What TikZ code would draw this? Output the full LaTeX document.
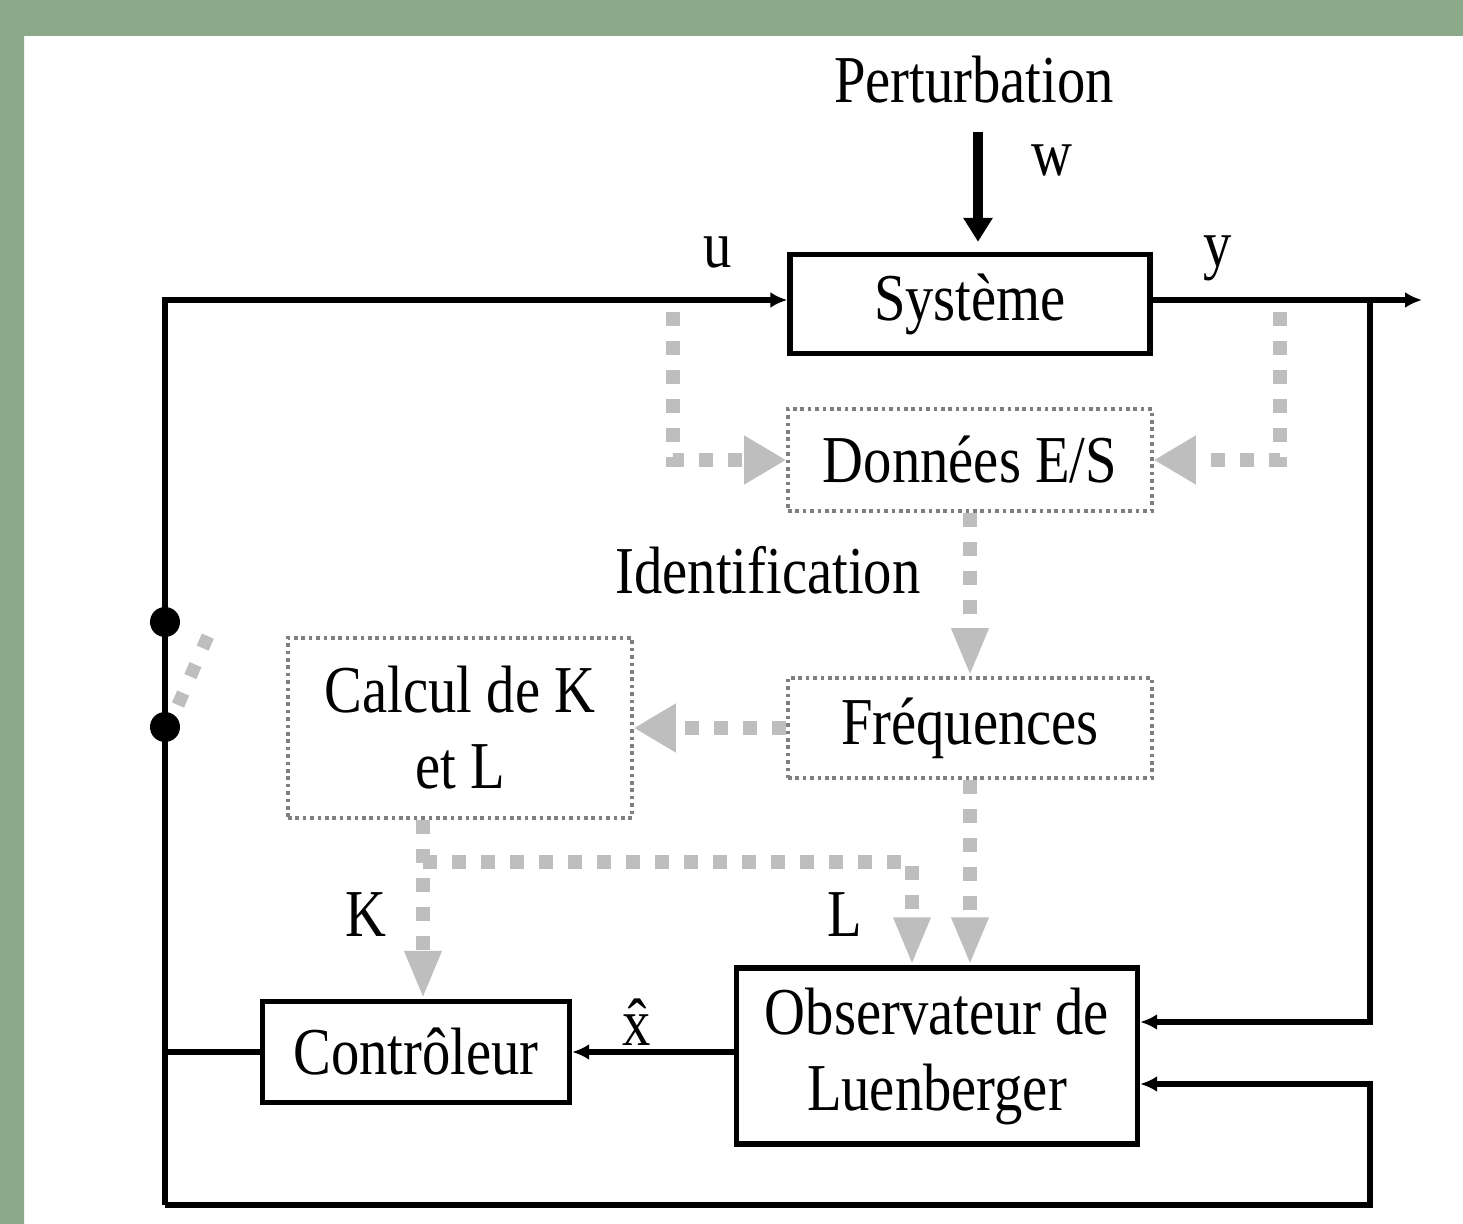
\documentclass[tikz,border=0pt]{standalone}
\usepackage{fontspec}
\setmainfont{Liberation Serif}[FakeStretch=0.845]
\usepackage{tikz}
\usetikzlibrary{positioning,arrows.meta}
\usepackage{xcolor}
\definecolor{bandgreen}{HTML}{8CA989}
\definecolor{bandlight}{HTML}{ABD2A8}
\definecolor{flowgray}{HTML}{BEBEBE}
\definecolor{framegray}{HTML}{7F7F7F}

\begin{document}
\begin{tikzpicture}[x=0.5pt, y=-0.5pt,
                font=\fontsize{33.5}{38}\selectfont,
                blockbox/.style={draw, line width=2.7pt, inner sep=0pt, align=center},
                databox/.style={draw=framegray, line width=1.8pt, dash pattern=on 1.8pt off 1.9pt, inner sep=0pt, align=center},
                wire/.style={line width=2.6pt, -{Latex[length=8.5pt,width=8pt]}},
                flow/.style={flowgray, line width=7pt, dash pattern=on 7pt off 7.5pt, -{Triangle[length=21pt,width=23pt]}},
                flowdown/.style={flow, -{Triangle[length=24pt,width=17pt]}}]

                % Background and slide border
                \useasboundingbox (0,0) rectangle (1463,1224);
                \fill[white] (0,0) rectangle (1463,1224);
                \fill[bandgreen] (0,0) rectangle (1463,36);
                \shade[top color=bandgreen, middle color=bandlight, bottom color=bandgreen] (0,36) rectangle (24,1224);

                % Blocks
                \node[blockbox, minimum width=180pt, minimum height=49.5pt] (sys) at (970,304) {Système};
                \node[databox, minimum width=182pt, minimum height=51pt] (data) at (970,460) {Données E/S};
                \node[databox, minimum width=182pt, minimum height=50pt] (freq) at (970,728) {Fréquences};
                \node[databox, minimum width=172pt, minimum height=90pt] (calc) at (460,728) {Calcul de K\\et L};
                \node[blockbox, minimum width=153.5pt, minimum height=50.5pt] (ctrl) at (416,1052) {Contrôleur};
                \node[blockbox, minimum width=200.5pt, minimum height=88pt] (obs) at (937,1056) {Observateur de\\Luenberger};

                % Labels
                \node (pert) at (974,80) {Perturbation};
                \node (wlbl) at (1052,160) {w};
                \node (ulbl) at (718,252) {u};
                \node (ylbl) at (1218,258) {y};
                \node (ident) at (768,570) {Identification};
                \node (klbl) at (366,915) {K};
                \node (llbl) at (845,915) {L};
                \node (xhat) at (637,1022) {\^{x}};

                % Corners and branch points
                \coordinate (nw) at (165,300);
                \coordinate (sw) at (165,1205);
                \coordinate (se) at (1370,1205);
                \coordinate (ybr) at (1370,300);
                \coordinate (yout) at (1422,300);
                \coordinate (wtop) at (978,132);
                \coordinate (utap) at (673,312);
                \coordinate (ytap) at (1280,312);
                \coordinate (kl) at (423,862);
                \coordinate (lcol) at (912,862);
                \coordinate (swA) at (165,622);
                \coordinate (swB) at (165,727);
                \coordinate (bladeA) at (178,705);
                \coordinate (bladeB) at (214,622);

                % Perturbation w
                \draw[line width=5pt, -{Triangle[length=12pt,width=14pt]}, shorten >=5pt] (wtop) -- (wtop |- sys.north);

                % Control loop
                \draw[wire] (sw) -- (nw) -- (sys.west |- nw);
                \draw[line width=2.6pt] (ctrl.west) -- (ctrl.west -| nw);
                \draw[wire] (sys.east |- ybr) -- (yout);
                \draw[wire] (ybr) |- ([yshift=17pt]obs.east);
                \draw[wire] (sw) -- (se) |- ([yshift=-14pt]obs.east);
                \draw[wire] (obs.west |- ctrl.east) -- (ctrl.east);

                % Switch
                \fill (swA) circle[radius=7.5pt];
                \fill (swB) circle[radius=7.5pt];
                \draw[flowgray, line width=6.5pt, dash pattern=on 6.5pt off 9pt] (bladeA) -- (bladeB);

                % Identification path
                \draw[flow] (utap) |- (data.west);
                \draw[flow] (ytap) |- (data.east);
                \draw[flowdown] (data.south) -- (freq.north);
                \draw[flow] (freq.west) -- (calc.east);
                \draw[flowdown] (calc.south -| kl) -- (ctrl.north -| kl);
                \draw[flowdown] (kl) -- (lcol) -- (lcol |- obs.north);
                \draw[flowdown] (freq.south) -- (freq.south |- obs.north);
            \end{tikzpicture}
\end{document}
